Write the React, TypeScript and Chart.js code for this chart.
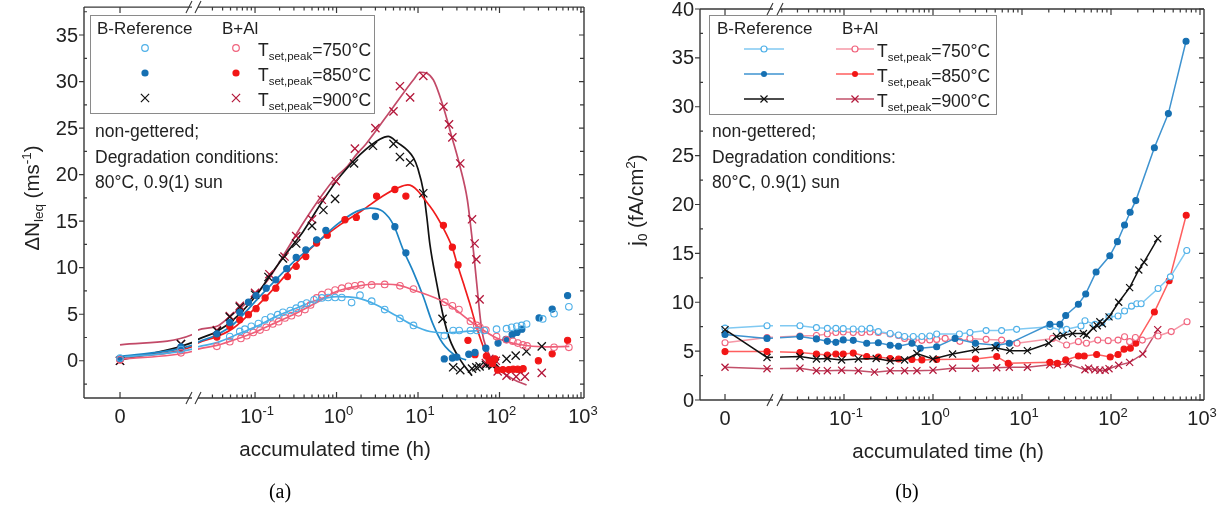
import React, { useEffect, useRef } from 'react';
import { Chart, registerables } from 'chart.js';
Chart.register(...registerables);

// ================= Panel (a): ΔN_leq (ms^-1) vs accumulated time (h) =================
// measured points (time in h, value)
const A_REF750_T = [0, 0.01, 0.049, 0.065, 0.075, 0.09, 0.11, 0.133, 0.156, 0.19, 0.22, 0.27, 0.32, 0.37, 0.43, 0.53, 0.66, 0.79, 0.96, 1.16, 1.53, 1.94, 2.7, 3.9, 6.0, 8.8, 21, 27, 32, 44, 53, 65, 92, 122, 141, 163, 187, 215, 339, 467, 710];
const A_REF750_V = [0.3, 1.2, 2.6, 3.15, 3.4, 3.7, 4.0, 4.4, 4.7, 4.95, 5.2, 5.4, 5.65, 6.0, 6.2, 6.55, 6.75, 6.8, 6.8, 6.8, 6.25, 7.05, 6.4, 5.5, 4.55, 3.8, 2.7, 3.25, 3.25, 3.25, 3.25, 3.25, 3.4, 3.45, 3.6, 3.7, 3.8, 3.95, 4.5, 5.05, 5.8];
const A_REF850_T = [0, 0.01, 0.034, 0.049, 0.065, 0.083, 0.103, 0.137, 0.18, 0.245, 0.32, 0.42, 0.57, 0.74, 3.0, 5.2, 7.1, 21, 26.4, 30, 42, 50, 68, 96, 120, 143, 164, 188, 306, 443, 685];
const A_REF850_V = [0.2, 1.5, 2.9, 4.1, 5.2, 6.3, 7.0, 7.8, 8.7, 9.9, 11.1, 11.9, 13.0, 14.0, 15.5, 14.4, 11.6, 0.2, 0.3, 0.4, 0.7, 0.9, 1.35, 1.9, 2.3, 2.8, 3.05, 3.4, 4.6, 5.55, 7.0];
const A_REF900_T = [0, 0.01, 0.034, 0.049, 0.065, 0.1, 0.146, 0.22, 0.32, 0.5, 0.69, 0.96, 1.64, 2.8, 5.0, 6.0, 8.0, 11.6, 20, 27, 33, 46, 52, 57, 68, 76, 82, 88, 122, 158, 214, 330];
const A_REF900_V = [0.0, 1.8, 3.2, 4.7, 5.75, 7.1, 9.0, 11.0, 12.6, 14.5, 16.2, 17.4, 21.2, 23.1, 23.3, 21.9, 21.3, 18.0, 4.5, -0.7, -1.0, -0.85, -0.7, -0.6, -0.45, -0.3, -0.5, -0.25, 0.2, 0.55, 1.0, 1.55];
const A_AL750_T = [0, 0.01, 0.034, 0.049, 0.067, 0.079, 0.095, 0.115, 0.137, 0.165, 0.195, 0.233, 0.28, 0.34, 0.41, 0.48, 0.57, 0.66, 0.79, 0.96, 1.16, 1.4, 1.68, 2.0, 2.7, 3.9, 6.0, 8.8, 21.3, 26.4, 31.8, 44, 52.6, 57.5, 68, 92, 122, 146, 168, 194, 218, 467, 710];
const A_AL750_V = [0.1, 0.85, 1.55, 2.05, 2.4, 2.7, 3.05, 3.3, 3.6, 3.95, 4.2, 4.6, 4.85, 5.15, 5.5, 6.0, 6.75, 7.1, 7.35, 7.6, 7.8, 8.0, 8.05, 8.15, 8.15, 8.2, 8.05, 7.7, 6.3, 5.9, 5.5, 4.25, 3.8, 3.6, 3.3, 2.6, 2.25, 2.1, 1.9, 1.7, 1.6, 1.45, 1.45];
const A_AL850_T = [0, 0.01, 0.034, 0.049, 0.065, 0.083, 0.103, 0.133, 0.18, 0.25, 0.32, 0.42, 0.57, 0.77, 1.27, 1.75, 3.1, 5.2, 7.1, 20.5, 26.4, 31, 41, 50, 69, 75, 82, 88, 95, 110, 130, 147, 167, 195, 300, 443, 685];
const A_AL850_V = [0.1, 1.4, 2.55, 3.7, 4.4, 4.95, 5.6, 6.75, 7.8, 9.05, 10.15, 11.2, 12.65, 13.5, 15.15, 15.4, 17.7, 18.4, 17.7, 14.55, 12.2, 10.3, 2.2, 0.65, 0.5, 0.0, -0.3, 0.2, -1.0, -0.95, -0.95, -0.9, -0.9, -0.85, 0.0, 0.75, 2.2];
const A_AL900_T = [0, 0.01, 0.034, 0.049, 0.065, 0.1, 0.15, 0.23, 0.32, 0.5, 0.66, 0.98, 1.68, 3.0, 5.0, 6.0, 8.0, 11.6, 20.5, 24, 26.4, 33, 46, 49.5, 52, 57, 68, 75, 82, 90, 95, 122, 160, 205, 330];
const A_AL900_V = [0.0, 1.8, 3.3, 4.8, 5.9, 7.3, 9.3, 11.2, 13.4, 15.2, 17.3, 19.3, 22.8, 25.0, 26.8, 29.5, 28.3, 30.6, 27.3, 25.4, 24.0, 21.2, 15.2, 12.6, 10.9, 6.6, -0.25, 0.2, -0.3, 0.0, -1.15, -1.6, -1.7, -1.7, -1.3];

// fitted curves
const FIT_REF750_T = [0, 0.0118, 0.02, 0.034, 0.065, 0.105, 0.18, 0.32, 0.57, 1.0, 1.77, 3.1, 5.5, 8.8, 14, 22, 39, 57];
const FIT_REF750_V = [0.35, 1.25, 1.5, 1.95, 2.95, 3.7, 4.75, 5.65, 6.5, 6.9, 6.75, 6.0, 4.8, 3.8, 3.15, 3.0, 3.15, 3.25];
const FIT_AL750_T = [0, 0.0118, 0.02, 0.034, 0.065, 0.105, 0.18, 0.32, 0.57, 1.0, 1.77, 3.1, 5.5, 8.8, 22, 50, 92, 175, 365, 720];
const FIT_AL750_V = [0.15, 1.0, 1.25, 1.65, 2.45, 3.15, 4.1, 5.1, 6.25, 7.45, 8.0, 8.25, 8.15, 7.6, 6.2, 3.9, 2.45, 1.75, 1.5, 1.55];
const FIT_REF850_T = [0, 0.0118, 0.02, 0.034, 0.054, 0.105, 0.18, 0.32, 0.57, 1.0, 1.77, 2.6, 3.7, 5.0, 6.6, 8.8, 11.6, 15, 20, 30, 39];
const FIT_REF850_V = [0.45, 1.65, 2.0, 2.8, 3.9, 6.55, 8.7, 10.9, 12.65, 14.6, 16.05, 16.4, 16.05, 14.6, 11.9, 9.5, 6.9, 4.1, 1.9, 0.45, 0.1];
const FIT_AL850_T = [0, 0.0118, 0.02, 0.034, 0.054, 0.105, 0.18, 0.32, 0.57, 1.1, 2.1, 3.7, 5.7, 7.5, 14, 20, 26.5, 30, 36, 43, 52, 63, 76, 100, 147, 195];
const FIT_AL850_V = [0.3, 1.5, 1.9, 2.6, 3.5, 5.85, 8.0, 10.5, 12.65, 14.6, 16.2, 17.7, 18.6, 18.9, 16.6, 14.4, 12.1, 10.5, 8.35, 6.2, 3.7, 1.55, 0.1, -0.8, -1.15, -1.25];
const FIT_REF900_T = [0, 0.0118, 0.02, 0.034, 0.054, 0.105, 0.15, 0.245, 0.39, 0.69, 1.1, 1.94, 3.4, 4.3, 5.5, 8.8, 10, 11.6, 12.8, 14, 16.9, 20.5, 24.5, 33, 46];
const FIT_REF900_V = [0.05, 1.95, 2.3, 3.15, 4.4, 7.1, 9.05, 11.6, 13.9, 17.3, 19.8, 22.15, 23.8, 24.1, 23.5, 21.8, 20.6, 18.3, 15.5, 12.5, 8.4, 4.7, 2.3, 0.1, -1.6];
const FIT_AL900_T = [0, 0.0118, 0.02, 0.034, 0.049, 0.095, 0.15, 0.245, 0.39, 0.69, 1.0, 1.33, 1.77, 2.3, 5.0, 8.8, 10.6, 15.4, 20.4, 25.9, 32.7, 40.3, 45.6, 49, 53.5, 60.6, 70, 92, 148, 215];
const FIT_AL900_V = [1.7, 2.8, 3.3, 3.7, 4.75, 6.9, 8.9, 11.9, 14.8, 18.0, 19.8, 20.8, 22.2, 23.3, 27.3, 30.2, 31.0, 30.2, 27.3, 24.1, 20.9, 17.3, 13.5, 11.0, 7.6, 3.3, 1.2, -0.6, -2.0, -2.6];

// ================= Panel (b): j0 (fA/cm^2) vs accumulated time (h) =================
const B_REF750_T = [0, 0.01, 0.032, 0.049, 0.065, 0.081, 0.098, 0.127, 0.158, 0.196, 0.243, 0.33, 0.41, 0.48, 0.6, 0.75, 0.92, 1.1, 1.98, 2.6, 3.95, 5.9, 8.7, 20.6, 28, 31.7, 46, 51, 66, 79, 95, 120, 142, 170, 195, 218, 338, 465, 710];
const B_REF750_V = [7.35, 7.6, 7.6, 7.4, 7.33, 7.33, 7.3, 7.26, 7.26, 7.33, 7.0, 6.8, 6.65, 6.5, 6.5, 6.5, 6.55, 6.75, 6.75, 6.9, 7.1, 7.1, 7.23, 7.5, 7.1, 7.23, 7.57, 8.1, 7.74, 7.9, 8.5, 8.6, 9.1, 9.6, 9.85, 9.85, 11.4, 12.6, 15.3];
const B_REF850_T = [0, 0.01, 0.032, 0.049, 0.065, 0.081, 0.098, 0.127, 0.18, 0.243, 0.33, 0.41, 0.58, 0.72, 1.1, 1.77, 3.0, 5.2, 7.2, 20.6, 26.7, 31, 43, 52, 68, 97, 118, 142, 164, 190, 307, 441, 697];
const B_REF850_V = [6.7, 6.3, 6.5, 6.25, 6.0, 5.9, 6.15, 6.1, 5.8, 5.85, 5.6, 5.5, 5.8, 5.3, 5.45, 6.3, 5.8, 5.6, 5.8, 7.75, 7.75, 8.65, 9.8, 10.85, 13.1, 14.75, 16.2, 17.9, 19.2, 20.4, 25.8, 29.3, 36.7];
const B_REF900_T = [0, 0.01, 0.032, 0.049, 0.065, 0.094, 0.145, 0.23, 0.33, 0.48, 0.66, 1.0, 1.66, 3.0, 5.0, 7.3, 11.5, 20, 24.4, 29, 37, 49, 53, 63, 70, 75, 80, 95, 122, 162, 205, 235, 335];
const B_REF900_V = [7.2, 4.35, 4.45, 4.2, 4.25, 4.1, 4.2, 4.25, 4.0, 4.1, 4.75, 4.2, 4.7, 5.15, 5.35, 5.05, 5.05, 5.8, 6.5, 6.6, 6.8, 6.8, 6.65, 7.35, 7.6, 8.0, 7.8, 8.5, 10.0, 11.5, 13.3, 14.1, 16.5];
const B_AL750_T = [0, 0.01, 0.032, 0.049, 0.065, 0.081, 0.098, 0.127, 0.158, 0.196, 0.243, 0.33, 0.41, 0.48, 0.6, 0.75, 0.92, 1.1, 1.37, 2.0, 2.6, 3.95, 5.9, 8.8, 22, 31.7, 43, 53, 71, 93, 120, 142, 162, 188, 225, 338, 475, 715];
const B_AL750_V = [5.85, 6.4, 6.55, 6.6, 6.75, 6.9, 6.95, 6.9, 6.9, 6.95, 6.9, 6.75, 6.6, 6.3, 6.1, 6.1, 6.15, 6.2, 6.3, 6.0, 6.3, 6.2, 6.13, 5.8, 6.3, 5.62, 5.97, 5.8, 6.13, 6.07, 6.13, 6.47, 5.97, 6.4, 6.13, 6.54, 7.0, 8.0];
const B_AL850_T = [0, 0.01, 0.032, 0.049, 0.065, 0.081, 0.098, 0.127, 0.18, 0.243, 0.33, 0.41, 0.58, 0.75, 1.1, 3.0, 5.2, 7.0, 20.6, 25, 31, 43, 50, 69, 98, 120, 140, 165, 190, 307, 450, 700];
const B_AL850_V = [4.95, 4.95, 4.85, 4.7, 4.6, 4.7, 4.7, 4.8, 4.45, 4.4, 4.25, 4.2, 4.15, 4.1, 4.15, 4.2, 4.45, 3.75, 3.85, 3.75, 4.1, 4.5, 4.5, 4.65, 4.4, 4.65, 5.2, 5.3, 5.8, 9.0, 12.2, 18.9];
const B_AL900_T = [0, 0.01, 0.032, 0.049, 0.065, 0.094, 0.145, 0.22, 0.33, 0.48, 0.66, 1.0, 1.66, 3.0, 5.2, 7.2, 11.5, 20.5, 25, 33, 51, 56, 66, 75, 86, 95, 122, 162, 228, 335];
const B_AL900_V = [3.35, 3.2, 3.25, 3.0, 3.0, 3.05, 3.0, 2.85, 3.0, 3.0, 3.0, 3.05, 3.25, 3.25, 3.3, 3.35, 3.35, 3.6, 3.6, 3.7, 3.1, 3.25, 3.1, 3.05, 3.05, 3.2, 3.55, 3.85, 4.7, 7.2];

// ticks / labels
const Y_TICKS_A = [0, 5, 10, 15, 20, 25, 30, 35];
const Y_TICKS_B = [0, 5, 10, 15, 20, 25, 30, 35, 40];
const X_DECADES = [-1, 0, 1, 2, 3];
const LEGEND_HEAD = ['B-Reference', 'B+Al'];
const LEGEND_TEMPS = ['=750°C', '=850°C', '=900°C'];
const NOTES = ['non-gettered;', 'Degradation conditions:', '80°C, 0.9(1) sun'];

// ================= styling =================
const SANS = '"Liberation Sans", Arial, Helvetica, sans-serif';
const SERIF = '"Liberation Serif", "Times New Roman", serif';
const AXIS = '#383838';
const COL = {
  lblue: '#4eb0e8', lblueLine: '#80c9f2', lblueFit: '#4aaee6',
  blue: '#1670b2', blueLine: '#3e93d0', blueFit: '#1d84c4',
  black: '#111111',
  pink: '#f0627c', pinkLine: '#f697a6', pinkFit: '#ef5f79',
  red: '#f21616', redLine: '#ff5e5e', redFit: '#f01c1c',
  dred: '#b3173a', dredLine: '#c2506a', dredFit: '#c24a68',
};

type Panel = {
  left: number; pad: any; uZero: number; k: number; uMin: number; uMax: number;
  gapL: number; gapR: number; yMin: number; yMax: number; yTicks: number[];
};
const PA: Panel = { left: 0, pad: { left: 84, top: 7, right: 31, bottom: 110 }, uZero: -2.657, k: 74.8, uMin: -3.099, uMax: 3.037, gapL: -1.774, gapR: -1.70, yMin: -4, yMax: 38, yTicks: Y_TICKS_A };
const PB: Panel = { left: 615, pad: { left: 85, top: 9, right: 26, bottom: 108 }, uZero: -2.337, k: 47.2, uMin: -2.618, uMax: 3.045, gapL: -1.798, gapR: -1.719, yMin: 0, yMax: 40, yTicks: Y_TICKS_B };

// broken time axis: linear part near 0, then log10 part
const toU = (t: number, p: Panel) => (t < 0.015 ? p.uZero + t * p.k : Math.log10(t));
const pts = (T: number[], V: number[], p: Panel) => T.map((t, i) => ({ x: toU(t, p), y: V[i] }));

type Seg = { t: string; s: number; dy?: number };
function richWidth(ctx: any, segs: Seg[]) {
  let w = 0;
  for (const g of segs) { ctx.font = `${g.s}px ${SANS}`; w += ctx.measureText(g.t).width; }
  return w;
}
function drawRich(ctx: any, segs: Seg[], x: number, y: number, align: string) {
  const w = richWidth(ctx, segs);
  let cx = align === 'left' ? x : align === 'center' ? x - w / 2 : x - w;
  ctx.textAlign = 'left';
  ctx.textBaseline = 'alphabetic';
  for (const g of segs) {
    ctx.font = `${g.s}px ${SANS}`;
    ctx.fillText(g.t, cx, y + (g.dy || 0));
    cx += ctx.measureText(g.t).width;
  }
}
function marker(ctx: any, kind: string, x: number, y: number, color: string, r: number) {
  ctx.save();
  ctx.strokeStyle = color; ctx.fillStyle = color; ctx.lineWidth = 1.2;
  ctx.beginPath();
  if (kind === 'open') { ctx.arc(x, y, r, 0, Math.PI * 2); ctx.fillStyle = '#fff'; ctx.fill(); ctx.stroke(); }
  else if (kind === 'filled') { ctx.arc(x, y, r, 0, Math.PI * 2); ctx.fill(); }
  else { const d = r * 0.707; ctx.moveTo(x - d, y - d); ctx.lineTo(x + d, y + d); ctx.moveTo(x - d, y + d); ctx.lineTo(x + d, y - d); ctx.stroke(); }
  ctx.restore();
}

function drawAxes(chart: any, p: Panel) {
  const ctx = chart.ctx;
  const { left, right, top, bottom } = chart.chartArea;
  const xs = chart.scales.x, ys = chart.scales.y;
  const gl = xs.getPixelForValue(p.gapL), gr = xs.getPixelForValue(p.gapR);
  ctx.save();
  ctx.strokeStyle = AXIS; ctx.fillStyle = '#222';
  ctx.lineWidth = 1.4;
  ctx.beginPath();
  ctx.moveTo(left, top); ctx.lineTo(left, bottom);
  ctx.moveTo(right, top); ctx.lineTo(right, bottom);
  for (const yy of [top, bottom]) {
    ctx.moveTo(left, yy); ctx.lineTo(gl, yy); ctx.moveTo(gr, yy); ctx.lineTo(right, yy);
  }
  ctx.stroke();
  // break marks
  ctx.lineWidth = 1.1;
  ctx.beginPath();
  for (const yy of [top, bottom]) {
    ctx.moveTo(gl - 6, yy + 6); ctx.lineTo(gl, yy - 6);
    ctx.moveTo(gr - 3, yy + 6); ctx.lineTo(gr + 3, yy - 6);
  }
  ctx.stroke();
  // y ticks
  ctx.lineWidth = 1.2;
  ctx.beginPath();
  for (const v of p.yTicks) {
    const py = ys.getPixelForValue(v);
    ctx.moveTo(left - 5, py); ctx.lineTo(left, py);
    ctx.moveTo(right - 5, py); ctx.lineTo(right, py);
  }
  for (let i = 0; i <= p.yTicks.length; i++) {
    const v = (i === 0 ? p.yTicks[0] - 2.5 : p.yTicks[i - 1] + 2.5);
    if (v <= p.yMin || v >= p.yMax) continue;
    const py = ys.getPixelForValue(v);
    ctx.moveTo(left, py); ctx.lineTo(left + 3, py);
    ctx.moveTo(right - 4, py); ctx.lineTo(right, py);
  }
  // x ticks
  const p0 = xs.getPixelForValue(toU(0, p));
  ctx.moveTo(p0, bottom); ctx.lineTo(p0, bottom - 6);
  ctx.moveTo(p0, top); ctx.lineTo(p0, top + 6);
  for (const d of X_DECADES) {
    const px = xs.getPixelForValue(d);
    ctx.moveTo(px, bottom); ctx.lineTo(px, bottom - 6);
    ctx.moveTo(px, top); ctx.lineTo(px, top + 6);
  }
  for (let d = -2; d <= 2; d++) {
    for (let m = 2; m <= 9; m++) {
      const u = Math.log10(m) + d;
      if (u <= p.gapR + 0.02 || u >= p.uMax) continue;
      const px = xs.getPixelForValue(u);
      ctx.moveTo(px, bottom); ctx.lineTo(px, bottom - 3.5);
      ctx.moveTo(px, top); ctx.lineTo(px, top + 3.5);
    }
  }
  ctx.stroke();
  // labels
  ctx.fillStyle = '#222';
  ctx.font = `20px ${SANS}`;
  ctx.textAlign = 'right'; ctx.textBaseline = 'middle';
  for (const v of p.yTicks) ctx.fillText(String(v), left - 6, ys.getPixelForValue(v) + 1);
  drawRich(ctx, [{ t: '0', s: 20 }], p0, bottom + 25, 'center');
  for (const d of X_DECADES) {
    drawRich(ctx, [{ t: '10', s: 20 }, { t: String(d), s: 13, dy: -8 }], xs.getPixelForValue(d) + 2, bottom + 25, 'center');
  }
  ctx.restore();
}

function drawNotes(ctx: any, x: number) {
  ctx.save();
  ctx.fillStyle = '#222';
  ctx.font = `17.5px ${SANS}`;
  ctx.textAlign = 'left'; ctx.textBaseline = 'alphabetic';
  ctx.fillText(NOTES[0], x, 137);
  ctx.fillText(NOTES[1], x, 162.5);
  ctx.fillText(NOTES[2], x, 188);
  ctx.restore();
}

function tLabel(ctx: any, x: number, y: number, i: number) {
  drawRich(ctx, [{ t: 'T', s: 17.5 }, { t: 'set,peak', s: 11.5, dy: 3.5 }, { t: LEGEND_TEMPS[i], s: 17.5 }], x, y, 'left');
}

const decoA = {
  id: 'decoA',
  afterDatasetsDraw(chart: any) {
    const { top, bottom } = chart.chartArea; const xs = chart.scales.x;
    const gl = xs.getPixelForValue(PA.gapL), gr = xs.getPixelForValue(PA.gapR);
    chart.ctx.save(); chart.ctx.fillStyle = '#fff'; chart.ctx.fillRect(gl, top + 1, gr - gl, bottom - top - 2); chart.ctx.restore();
  },
  afterDraw(chart: any) {
    const ctx = chart.ctx;
    drawAxes(chart, PA);
    // legend
    ctx.save();
    ctx.fillStyle = '#fff'; ctx.fillRect(90.5, 15.5, 284, 98);
    ctx.strokeStyle = '#8a8a8a'; ctx.lineWidth = 1; ctx.strokeRect(90.5, 15.5, 284, 98);
    ctx.fillStyle = '#222';
    drawRich(ctx, [{ t: LEGEND_HEAD[0], s: 17 }], 97, 34, 'left');
    drawRich(ctx, [{ t: LEGEND_HEAD[1], s: 17 }], 222, 34, 'left');
    marker(ctx, 'open', 145, 48, COL.lblue, 3.3);
    marker(ctx, 'filled', 145, 73, COL.blue, 3.6);
    marker(ctx, 'x', 145, 98, COL.black, 5.8);
    marker(ctx, 'open', 236, 48, COL.pink, 3.3);
    marker(ctx, 'filled', 236, 73, COL.red, 3.6);
    marker(ctx, 'x', 236, 98, COL.dred, 5.8);
    ctx.fillStyle = '#222';
    tLabel(ctx, 258, 56, 0); tLabel(ctx, 258, 81, 1); tLabel(ctx, 258, 106, 2);
    ctx.restore();
    drawNotes(ctx, 95);
    // axis titles
    ctx.save(); ctx.fillStyle = '#222';
    drawRich(ctx, [{ t: 'accumulated time (h)', s: 20.5 }], 335, 456, 'center');
    ctx.translate(39, 198); ctx.rotate(-Math.PI / 2);
    drawRich(ctx, [{ t: 'ΔN', s: 20.5 }, { t: 'leq', s: 13.5, dy: 4 }, { t: ' (ms', s: 20.5 }, { t: '-1', s: 13.5, dy: -8 }, { t: ')', s: 20.5 }], 0, 0, 'center');
    ctx.restore();
    ctx.save(); ctx.fillStyle = '#000'; ctx.font = `20px ${SERIF}`; ctx.textAlign = 'center'; ctx.textBaseline = 'alphabetic';
    ctx.fillText('(a)', 280, 498); ctx.restore();
  },
};

const decoB = {
  id: 'decoB',
  afterDatasetsDraw(chart: any) {
    const { top, bottom } = chart.chartArea; const xs = chart.scales.x;
    const gl = xs.getPixelForValue(PB.gapL), gr = xs.getPixelForValue(PB.gapR);
    chart.ctx.save(); chart.ctx.fillStyle = '#fff'; chart.ctx.fillRect(gl, top + 1, gr - gl, bottom - top - 2); chart.ctx.restore();
  },
  afterDraw(chart: any) {
    const ctx = chart.ctx;
    drawAxes(chart, PB);
    ctx.save();
    ctx.fillStyle = '#fff'; ctx.fillRect(94.5, 15.5, 287, 99);
    ctx.strokeStyle = '#8a8a8a'; ctx.lineWidth = 1; ctx.strokeRect(94.5, 15.5, 287, 99);
    ctx.fillStyle = '#222';
    drawRich(ctx, [{ t: LEGEND_HEAD[0], s: 17 }], 102, 34, 'left');
    drawRich(ctx, [{ t: LEGEND_HEAD[1], s: 17 }], 227, 34, 'left');
    const rows = [
      { y: 49, rl: COL.lblueLine, rp: COL.lblue, rk: 'open', al: COL.pinkLine, ap: COL.pink, ak: 'open' },
      { y: 74, rl: COL.blueLine, rp: COL.blue, rk: 'filled', al: COL.redLine, ap: COL.red, ak: 'filled' },
      { y: 99, rl: COL.black, rp: COL.black, rk: 'x', al: COL.dredLine, ap: COL.dred, ak: 'x' },
    ];
    rows.forEach((r, i) => {
      ctx.lineWidth = 1.5;
      ctx.strokeStyle = r.rl; ctx.beginPath(); ctx.moveTo(129, r.y); ctx.lineTo(169, r.y); ctx.stroke();
      ctx.strokeStyle = r.al; ctx.beginPath(); ctx.moveTo(221, r.y); ctx.lineTo(259, r.y); ctx.stroke();
      marker(ctx, r.rk, 149, r.y, r.rp, r.rk === 'x' ? 5 : 3);
      marker(ctx, r.ak, 240, r.y, r.ap, r.ak === 'x' ? 5 : 3);
      ctx.fillStyle = '#222';
      tLabel(ctx, 262, r.y + 8, i);
    });
    ctx.restore();
    drawNotes(ctx, 97);
    ctx.save(); ctx.fillStyle = '#222';
    drawRich(ctx, [{ t: 'accumulated time (h)', s: 20.5 }], 333, 458, 'center');
    ctx.translate(28, 200); ctx.rotate(-Math.PI / 2);
    drawRich(ctx, [{ t: 'j', s: 20.5 }, { t: '0', s: 13.5, dy: 4 }, { t: ' (fA/cm', s: 20.5 }, { t: '2', s: 13.5, dy: -8 }, { t: ')', s: 20.5 }], 0, 0, 'center');
    ctx.restore();
    ctx.save(); ctx.fillStyle = '#000'; ctx.font = `20px ${SERIF}`; ctx.textAlign = 'center'; ctx.textBaseline = 'alphabetic';
    ctx.fillText('(b)', 292, 498); ctx.restore();
  },
};

const scatterDS = (data: any[], kind: string, color: string) => ({
  data, showLine: false, order: 0,
  pointStyle: kind === 'x' ? 'crossRot' : 'circle',
  pointRadius: kind === 'x' ? 5.8 : kind === 'open' ? 3.3 : 3.1,
  pointBorderWidth: kind === 'x' ? 1.3 : 1.1,
  pointBackgroundColor: kind === 'open' ? 'rgba(255,255,255,0)' : color,
  pointBorderColor: color,
});
const fitDS = (data: any[], color: string) => ({
  data, showLine: true, order: 1, pointRadius: 0, borderColor: color, borderWidth: 1.7,
  cubicInterpolationMode: 'monotone', fill: false,
});
const lineDS = (data: any[], kind: string, lineColor: string, ptColor: string) => ({
  data, showLine: true, borderColor: lineColor, borderWidth: 1.5, tension: 0, fill: false,
  pointStyle: kind === 'x' ? 'crossRot' : 'circle',
  pointRadius: kind === 'x' ? 5 : kind === 'open' ? 3 : 3,
  pointBorderWidth: kind === 'x' ? 1.2 : 1.1,
  pointBackgroundColor: kind === 'open' ? '#ffffff' : ptColor,
  pointBorderColor: ptColor,
});

function datasetsA() {
  return [
    scatterDS(pts(A_REF750_T, A_REF750_V, PA), 'open', COL.lblue),
    scatterDS(pts(A_AL750_T, A_AL750_V, PA), 'open', COL.pink),
    scatterDS(pts(A_REF850_T, A_REF850_V, PA), 'filled', COL.blue),
    scatterDS(pts(A_AL850_T, A_AL850_V, PA), 'filled', COL.red),
    scatterDS(pts(A_REF900_T, A_REF900_V, PA), 'x', COL.black),
    scatterDS(pts(A_AL900_T, A_AL900_V, PA), 'x', COL.dred),
    fitDS(pts(FIT_REF750_T, FIT_REF750_V, PA), COL.lblueFit),
    fitDS(pts(FIT_AL750_T, FIT_AL750_V, PA), COL.pinkFit),
    fitDS(pts(FIT_REF850_T, FIT_REF850_V, PA), COL.blueFit),
    fitDS(pts(FIT_AL850_T, FIT_AL850_V, PA), COL.redFit),
    fitDS(pts(FIT_REF900_T, FIT_REF900_V, PA), COL.black),
    fitDS(pts(FIT_AL900_T, FIT_AL900_V, PA), COL.dredFit),
  ];
}
function datasetsB() {
  return [
    lineDS(pts(B_REF900_T, B_REF900_V, PB), 'x', COL.black, COL.black),
    lineDS(pts(B_REF850_T, B_REF850_V, PB), 'filled', COL.blueLine, COL.blue),
    lineDS(pts(B_REF750_T, B_REF750_V, PB), 'open', COL.lblueLine, COL.lblue),
    lineDS(pts(B_AL750_T, B_AL750_V, PB), 'open', COL.pinkLine, COL.pink),
    lineDS(pts(B_AL850_T, B_AL850_V, PB), 'filled', COL.redLine, COL.red),
    lineDS(pts(B_AL900_T, B_AL900_V, PB), 'x', COL.dredLine, COL.dred),
  ];
}

function PanelChart({ p, datasets, deco }: { p: Panel; datasets: () => any[]; deco: any }) {
  const ref = useRef<HTMLCanvasElement>(null);
  useEffect(() => {
    const chart = new Chart(ref.current as HTMLCanvasElement, {
      type: 'scatter',
      data: { datasets: datasets() as any },
      options: {
        responsive: false, animation: false, devicePixelRatio: 1, events: [],
        layout: { padding: p.pad },
        plugins: { legend: { display: false }, tooltip: { enabled: false }, title: { display: false } },
        scales: {
          x: { type: 'linear', min: p.uMin, max: p.uMax, display: false },
          y: { type: 'linear', min: p.yMin, max: p.yMax, display: false },
        },
      } as any,
      plugins: [deco],
    });
    return () => chart.destroy();
  }, []);
  return (
    <canvas ref={ref} width={615} height={508}
      style={{ position: 'absolute', left: p.left, top: 0, width: 615, height: 508 }} />
  );
}

export default function App() {
  return (
    <div style={{ position: 'absolute', left: 0, top: 0, width: 1230, height: 508, background: '#fff', overflow: 'hidden' }}>
      <PanelChart p={PA} datasets={datasetsA} deco={decoA} />
      <PanelChart p={PB} datasets={datasetsB} deco={decoB} />
    </div>
  );
}
